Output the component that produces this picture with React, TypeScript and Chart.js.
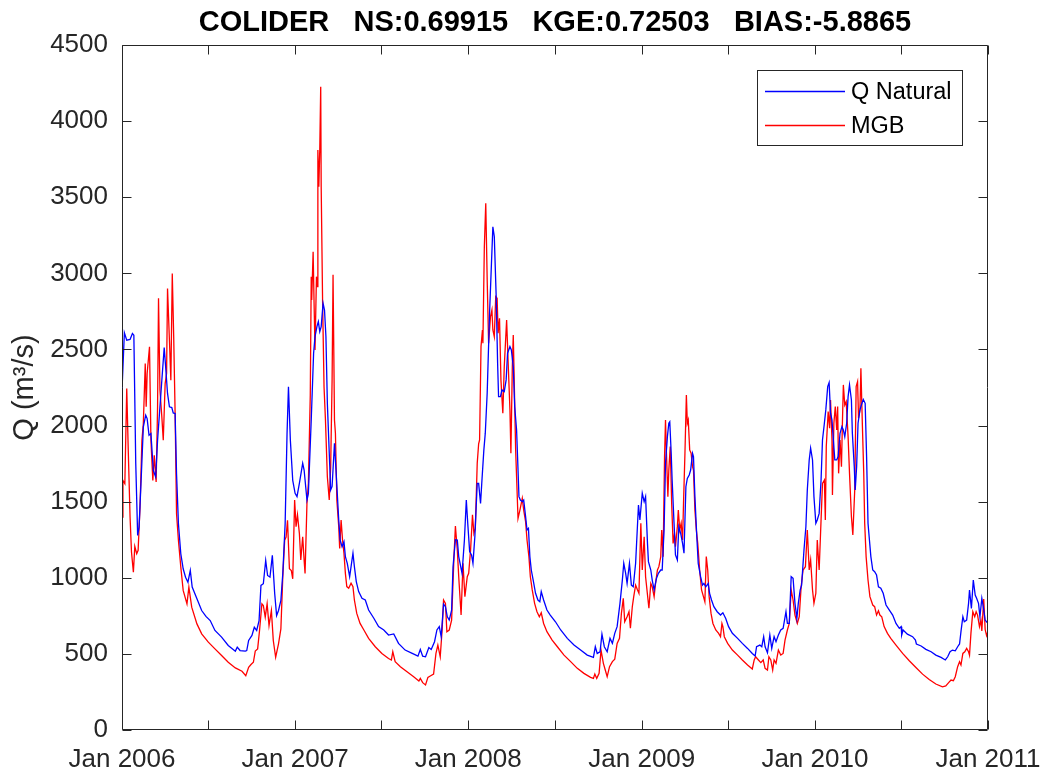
import { useEffect, useRef } from 'react';
import { Chart, registerables } from 'chart.js';

Chart.register(...registerables);

// ---------------- data (day offset from 1 Jan 2006, discharge m3/s) ----------------
const qNaturalPoints: [number, number][] = [
  [0, 2232], [5, 2610], [10, 2561], [17, 2566], [22, 2605], [25, 2594], [29, 1750], [33, 1278], [36, 1333],
  [40, 1618], [45, 1991], [50, 2068], [53, 2046], [57, 1936], [61, 1947], [66, 1706], [71, 1662], [75, 1903],
  [80, 2123], [84, 2298], [89, 2513], [92, 2386], [96, 2211], [100, 2123], [105, 2118], [108, 2083], [112, 2079],
  [115, 1684], [119, 1355], [124, 1158], [129, 1059], [134, 1004], [139, 971], [144, 1048], [148, 939], [158, 862],
  [168, 785], [177, 746], [186, 719], [196, 654], [210, 610], [224, 555], [239, 518], [243, 544], [249, 522],
  [260, 518], [263, 522], [267, 588], [274, 621], [279, 675], [284, 654], [289, 719], [293, 950], [298, 961],
  [303, 1114], [307, 1015], [312, 1004], [317, 1147], [322, 895], [326, 752], [330, 785], [335, 851], [339, 1026],
  [344, 1355], [348, 1947], [351, 2254], [355, 1903], [360, 1640],
  [365, 1555], [369, 1533], [374, 1620], [381, 1752], [384, 1708], [390, 1511], [393, 1555], [399, 2036],
  [404, 2475], [407, 2584], [411, 2650], [414, 2683], [417, 2617], [420, 2650], [424, 2803], [427, 2759],
  [430, 2584], [433, 2146], [436, 1900], [440, 1577], [443, 1600], [448, 1883], [452, 1664], [457, 1380],
  [460, 1248], [464, 1204], [468, 1237], [471, 1139], [475, 1095], [480, 1007], [483, 1073], [487, 1161],
  [490, 1073], [494, 975], [499, 909], [506, 865], [513, 854], [520, 788], [531, 734], [541, 679], [552, 657],
  [562, 624], [573, 631], [583, 569], [597, 525], [612, 503], [624, 485], [629, 529], [634, 485], [640, 481],
  [647, 542], [652, 529], [659, 580], [664, 657], [669, 679], [673, 613], [678, 827], [682, 810], [686, 744],
  [690, 722], [695, 788], [698, 1073], [703, 1250], [707, 1248], [710, 1139],
  [717, 1029], [722, 1248], [726, 1511], [729, 1358], [733, 1172], [737, 1150], [740, 1095], [744, 1270],
  [749, 1620], [752, 1620], [756, 1489], [759, 1642], [763, 1840], [766, 1950], [770, 2212], [775, 2737],
  [779, 3065], [782, 3306], [785, 3241], [789, 2847], [792, 2409], [794, 2190], [798, 2190], [801, 2234],
  [806, 2223], [810, 2300], [813, 2475], [818, 2519], [821, 2497], [825, 2387], [828, 2125], [832, 1971],
  [834, 1800], [837, 1533], [840, 1511], [844, 1500], [847, 1511], [851, 1402], [854, 1314], [857, 1325],
  [860, 1139], [863, 1051], [867, 985], [872, 898], [877, 854], [881, 843], [884, 909], [889, 854], [896, 788],
  [903, 755], [914, 711], [925, 657], [939, 602], [953, 558], [967, 525], [981, 492], [994, 477], [998, 547],
  [1002, 503], [1008, 514], [1012, 630], [1017, 547], [1023, 514], [1029, 602], [1034, 569], [1039, 635],
  [1044, 679], [1050, 832], [1055, 985], [1058, 1095], [1062, 1029], [1065, 963], [1070, 1095], [1074, 952],
  [1078, 941],
  [1083, 1095], [1089, 1478], [1092, 1380], [1097, 1555], [1101, 1500], [1104, 1533], [1108, 1226], [1110, 1106],
  [1115, 1051], [1118, 985], [1122, 920], [1127, 996], [1131, 1029], [1136, 1051], [1139, 1051], [1143, 1314],
  [1146, 1752], [1150, 1927], [1153, 2015], [1155, 2025], [1158, 1818], [1160, 1642], [1164, 1358], [1167, 1150],
  [1171, 1117], [1174, 1336], [1178, 1292], [1182, 1226], [1185, 1161], [1189, 1598], [1192, 1653], [1196, 1675],
  [1199, 1708], [1203, 1818], [1205, 1796], [1208, 1533], [1212, 1270], [1215, 1095], [1220, 1007], [1224, 952],
  [1227, 963], [1231, 941], [1236, 963], [1239, 898], [1243, 854], [1248, 810], [1255, 777], [1262, 755],
  [1267, 770], [1273, 733], [1279, 679], [1287, 635], [1298, 602], [1308, 569], [1319, 536], [1329, 503],
  [1335, 486], [1338, 547], [1345, 558], [1349, 547], [1353, 613], [1356, 547], [1361, 508], [1366, 624],
  [1370, 536], [1375, 613], [1379, 580], [1384, 624], [1389, 657], [1394, 668], [1400, 777], [1403, 700],
  [1407, 700], [1411, 1007], [1415, 996], [1419, 832], [1423, 733], [1426, 832], [1430, 920], [1433, 952],
  [1438, 1183],
  [1442, 1335], [1445, 1577], [1449, 1774], [1452, 1851], [1456, 1774], [1459, 1533], [1463, 1358], [1466, 1380],
  [1470, 1423], [1474, 1642], [1477, 1905], [1481, 2015], [1484, 2103], [1488, 2256], [1491, 2282], [1494, 2081],
  [1497, 2037], [1500, 1905], [1503, 1774], [1507, 1774], [1510, 1796], [1514, 1949], [1518, 1993], [1521, 1971],
  [1524, 1927], [1528, 2015], [1531, 2190], [1534, 2267], [1538, 2168], [1540, 1949], [1544, 1730], [1546, 1577],
  [1549, 1730], [1552, 2015], [1556, 2103], [1559, 2135], [1563, 2172], [1567, 2146], [1570, 1796], [1573, 1358],
  [1576, 1248], [1579, 1139], [1583, 1051], [1587, 1040], [1591, 1018], [1595, 941], [1600, 931], [1605, 898],
  [1611, 821], [1618, 788], [1625, 755], [1632, 700], [1639, 668], [1643, 679], [1644, 624], [1647, 657],
  [1656, 630], [1667, 613], [1673, 591], [1675, 565], [1685, 552], [1695, 530], [1706, 514], [1716, 492],
  [1727, 477], [1736, 460], [1741, 481], [1746, 514], [1751, 525], [1757, 520], [1762, 547], [1766, 565],
  [1769, 646], [1773, 744], [1776, 711], [1781, 722], [1785, 832], [1787, 920], [1791, 799], [1795, 985],
  [1799, 886], [1802, 865], [1806, 832], [1809, 744], [1813, 865], [1816, 810], [1820, 722], [1823, 711],
  [1826, 700],
];

const mgbPoints: [number, number][] = [
  [0, 1399], [2, 1640], [6, 1618], [10, 2243], [13, 1860], [17, 1399], [20, 1169], [24, 1037], [27, 1206],
  [31, 1158], [34, 1180], [38, 1465], [42, 1903], [45, 2013], [49, 2408], [51, 2123], [53, 2342], [58, 2518],
  [61, 1903], [65, 1640], [68, 1805], [72, 1629], [75, 2123], [77, 2836], [80, 2232], [84, 2057], [87, 1903],
  [91, 2276], [94, 2342], [96, 2901], [100, 2561], [103, 2298], [106, 2999], [109, 2583], [112, 2079],
  [115, 1421], [119, 1246], [124, 1070], [129, 917], [137, 829], [141, 939], [147, 807], [158, 697], [168, 632],
  [182, 577], [196, 533], [210, 489], [224, 445], [239, 408], [253, 386], [261, 357], [267, 412], [272, 430],
  [277, 445], [281, 518], [286, 533], [290, 654], [295, 829], [298, 818], [302, 741], [306, 829], [310, 686],
  [315, 785], [319, 588], [324, 478], [330, 566], [335, 664], [339, 1004], [343, 1246], [346, 1268],
  [349, 1377], [353, 1059], [357, 1048], [360, 993],
  [364, 1511], [367, 1336], [370, 1413], [374, 1292], [377, 1117], [381, 1270], [384, 1117], [386, 1029],
  [390, 1489], [393, 1620], [397, 2200], [399, 2978], [400, 2825], [403, 3142], [405, 2803], [407, 2496],
  [410, 2978], [412, 2913], [413, 3810], [415, 3569], [417, 3810], [419, 4226], [420, 3569], [423, 2803],
  [426, 2255], [429, 2036], [433, 1664], [437, 1511], [440, 1730], [443, 2300], [445, 2990], [448, 2036],
  [450, 1949], [453, 1511], [457, 1336], [459, 1193], [462, 1380], [465, 1248], [468, 1161], [471, 1029],
  [474, 942], [478, 931], [483, 964], [487, 942], [490, 854], [495, 766], [502, 700], [510, 657], [520, 602],
  [534, 547], [548, 503], [562, 470], [568, 460], [571, 514], [576, 449], [587, 416], [601, 383], [615, 350],
  [626, 322], [629, 339], [634, 311], [640, 296], [645, 346], [650, 355], [657, 368], [662, 503], [666, 558],
  [671, 481], [675, 657], [678, 854], [682, 832], [685, 646], [690, 657], [695, 722], [700, 1139], [703, 1340],
  [707, 1183], [710, 1007],
  [715, 755], [719, 1095], [723, 876], [728, 1007], [731, 1029], [735, 1183], [739, 1413], [742, 1292],
  [745, 1325], [749, 1752], [752, 1880], [754, 1905], [757, 2519], [760, 2628], [761, 2541], [764, 3175],
  [767, 3460], [770, 2957], [773, 2541], [777, 2716], [780, 2759], [782, 2628], [785, 2584], [788, 2847],
  [791, 2836], [793, 2606], [796, 2705], [799, 2300], [803, 2081], [806, 2387], [811, 2694], [814, 2431],
  [818, 2103], [820, 1818], [823, 2387], [825, 2595], [827, 2300], [830, 1840], [832, 1664], [835, 1390],
  [839, 1445], [844, 1522], [847, 1445], [851, 1369], [854, 1248], [858, 1139], [861, 1007], [865, 920],
  [870, 832], [875, 777], [880, 744], [884, 770], [889, 700], [896, 646], [907, 591], [918, 547], [932, 492],
  [946, 449], [960, 405], [974, 372], [988, 346], [994, 339], [997, 368], [1001, 339], [1006, 372], [1010, 525],
  [1015, 438], [1019, 394], [1023, 350], [1028, 416], [1034, 449], [1039, 465], [1044, 569], [1049, 602],
  [1053, 766], [1057, 865], [1060, 711], [1065, 744], [1069, 777], [1072, 668], [1076, 810], [1079, 876],
  [1083, 952], [1087, 920], [1090, 898], [1094, 1358], [1097, 1051], [1101, 1270], [1104, 1007], [1111, 800],
  [1115, 963], [1118, 941], [1122, 876], [1125, 963], [1129, 1051], [1132, 1073], [1136, 1139], [1138, 1314],
  [1141, 1139], [1144, 1796], [1146, 2037], [1148, 1818], [1151, 1533], [1153, 1708], [1156, 1862], [1159, 1489],
  [1162, 1226], [1165, 1292], [1167, 1204], [1171, 1336], [1173, 1445], [1176, 1314], [1179, 1358], [1182, 1248],
  [1184, 1489], [1187, 1818], [1190, 2201], [1192, 2015], [1194, 2037], [1197, 1840], [1200, 1818], [1203, 1730],
  [1205, 1708], [1208, 1445], [1211, 1314], [1214, 1226], [1218, 1051], [1222, 920], [1226, 876], [1229, 843],
  [1232, 1139], [1235, 1051], [1238, 876], [1242, 766], [1246, 700], [1252, 657], [1258, 635], [1262, 613],
  [1265, 700], [1267, 679], [1270, 613], [1277, 569], [1287, 525], [1298, 492], [1308, 460], [1319, 427],
  [1329, 401], [1333, 460], [1336, 481], [1342, 460], [1347, 443], [1352, 460], [1356, 405], [1361, 394],
  [1364, 481], [1368, 460], [1372, 394], [1375, 460], [1379, 438], [1384, 525], [1389, 492], [1394, 503],
  [1398, 591], [1403, 657], [1407, 700], [1411, 920], [1415, 854], [1419, 755], [1424, 700], [1428, 744],
  [1432, 941], [1436, 1051], [1441, 1073],
  [1445, 1314], [1449, 1051], [1452, 1117], [1456, 920], [1459, 832], [1463, 898], [1466, 1248], [1470, 1051],
  [1474, 1380], [1477, 1620], [1481, 1642], [1483, 1380], [1485, 1862], [1489, 2092], [1492, 1983], [1494, 2168],
  [1497, 1905], [1498, 1544], [1501, 2015], [1504, 2125], [1507, 1971], [1509, 2125], [1511, 1686], [1514, 1905],
  [1517, 1730], [1519, 2015], [1521, 2267], [1524, 2135], [1527, 2157], [1531, 1927], [1534, 1686], [1538, 1402],
  [1541, 1281], [1545, 1577], [1548, 2256], [1551, 2289], [1553, 2048], [1556, 2103], [1558, 2376], [1561, 2015],
  [1564, 1686], [1566, 1358], [1569, 1139], [1573, 985], [1577, 876], [1583, 821], [1587, 810], [1591, 755],
  [1595, 783], [1598, 755], [1602, 744], [1607, 679], [1614, 635], [1621, 602], [1632, 558], [1646, 503],
  [1660, 455], [1674, 411], [1688, 367], [1702, 332], [1716, 302], [1730, 284], [1737, 289], [1743, 311],
  [1748, 328], [1753, 324], [1757, 350], [1762, 416], [1766, 449], [1769, 427], [1773, 503], [1777, 514],
  [1781, 536], [1785, 514], [1787, 492], [1790, 635], [1794, 777], [1798, 744], [1801, 777], [1804, 755],
  [1808, 679], [1811, 722], [1813, 650], [1817, 860], [1820, 660], [1823, 620], [1826, 650],
];

const seriesLabels = ['Q Natural', 'MGB'];
const xTickDays = [0, 181, 365, 546, 730, 912, 1096, 1277, 1461, 1642, 1826];
const xTickLabels = ['Jan 2006', '', 'Jan 2007', '', 'Jan 2008', '', 'Jan 2009', '', 'Jan 2010', '', 'Jan 2011'];
const yMin = 0;
const yMax = 4500;
const yStep = 500;
const titleText = 'COLIDER   NS:0.69915   KGE:0.72503   BIAS:-5.8865';
const yTitle = 'Q (m³/s)';

// ---------------- layout / style ----------------
const W = 1045;
const H = 775;
const AREA = { left: 122, top: 45, right: 988, bottom: 730 };
const FONT = '"Liberation Sans", Arial, Helvetica, sans-serif';
const AXIS_COLOR = '#262626';
const COLORS = ['#0000ff', '#ff0000'];

const framePlugin = {
  id: 'matlabFrame',
  afterDraw(chart: any) {
    const { ctx, chartArea: a, scales } = chart;
    const x = scales.x;
    const y = scales.y;
    ctx.save();
    ctx.strokeStyle = AXIS_COLOR;
    ctx.lineWidth = 1;
    const L = Math.round(a.left) + 0.5;
    const R = Math.round(a.right) - 0.5;
    const T = Math.round(a.top) + 0.5;
    const B = Math.round(a.bottom) - 0.5;
    ctx.beginPath();
    ctx.rect(L, T, R - L, B - T);
    ctx.stroke();
    const tl = 9;
    ctx.beginPath();
    xTickDays.forEach((d) => {
      const px = Math.round(x.getPixelForValue(d)) + 0.5;
      ctx.moveTo(px, B);
      ctx.lineTo(px, B - tl);
      ctx.moveTo(px, T);
      ctx.lineTo(px, T + tl);
    });
    for (let v = yMin; v <= yMax; v += yStep) {
      const py = Math.round(y.getPixelForValue(v)) + 0.5;
      ctx.moveTo(L, py);
      ctx.lineTo(L + tl, py);
      ctx.moveTo(R, py);
      ctx.lineTo(R - tl, py);
    }
    ctx.stroke();

    // title
    ctx.fillStyle = '#000000';
    ctx.font = `bold 29px ${FONT}`;
    ctx.textAlign = 'center';
    ctx.textBaseline = 'alphabetic';
    ctx.fillText(titleText, (a.left + a.right) / 2, 31);

    // legend box (inside top-right)
    const bx1 = a.right - 231;
    const bx2 = a.right - 26;
    const by1 = a.top + 25;
    const by2 = a.top + 100;
    ctx.fillStyle = '#ffffff';
    ctx.fillRect(bx1, by1, bx2 - bx1, by2 - by1);
    ctx.strokeStyle = AXIS_COLOR;
    ctx.lineWidth = 1;
    ctx.strokeRect(Math.round(bx1) + 0.5, Math.round(by1) + 0.5, bx2 - bx1, by2 - by1);
    const rows = [by1 + 21, by1 + 55];
    ctx.font = `23.5px ${FONT}`;
    ctx.textAlign = 'left';
    ctx.textBaseline = 'middle';
    chart.data.datasets.forEach((ds: any, i: number) => {
      const ry = rows[i] + 0.5;
      ctx.strokeStyle = ds.borderColor;
      ctx.lineWidth = 1.3;
      ctx.beginPath();
      ctx.moveTo(bx1 + 8, ry);
      ctx.lineTo(bx1 + 88, ry);
      ctx.stroke();
      ctx.fillStyle = '#000000';
      ctx.fillText(ds.label, bx1 + 94, ry + 1);
    });
    ctx.restore();
  },
};

export default function App() {
  const ref = useRef<HTMLCanvasElement | null>(null);

  useEffect(() => {
    if (!ref.current) return;
    const chart = new Chart(ref.current, {
      type: 'line',
      data: {
        datasets: [qNaturalPoints, mgbPoints].map((pts, i) => ({
          label: seriesLabels[i],
          data: pts.map(([d, q]) => ({ x: d, y: q })),
          borderColor: COLORS[i],
          backgroundColor: COLORS[i],
          borderWidth: 1.3,
          pointRadius: 0,
          tension: 0,
          fill: false,
        })),
      },
      options: {
        animation: false,
        responsive: false,
        maintainAspectRatio: false,
        devicePixelRatio: 1,
        events: [],
        layout: { padding: { left: 0, top: AREA.top, right: W - AREA.right, bottom: 0 } },
        plugins: {
          legend: { display: false },
          title: { display: false },
          tooltip: { enabled: false },
        },
        scales: {
          x: {
            type: 'linear',
            min: xTickDays[0],
            max: xTickDays[xTickDays.length - 1],
            afterBuildTicks: (s: any) => {
              s.ticks = xTickDays.map((v) => ({ value: v }));
            },
            afterFit: (s: any) => {
              s.height = H - AREA.bottom;
              s.paddingLeft = 0;
              s.paddingRight = 0;
            },
            grid: { display: false, drawTicks: false },
            border: { display: false },
            ticks: {
              autoSkip: false,
              maxRotation: 0,
              minRotation: 0,
              padding: 14,
              color: AXIS_COLOR,
              font: { family: FONT, size: 26 },
              callback: (_v: any, i: number) => xTickLabels[i],
            },
          },
          y: {
            type: 'linear',
            min: yMin,
            max: yMax,
            afterFit: (s: any) => {
              s.width = AREA.left;
              s.paddingTop = 0;
              s.paddingBottom = 0;
            },
            grid: { display: false, drawTicks: false },
            border: { display: false },
            ticks: {
              stepSize: yStep,
              padding: 14,
              color: AXIS_COLOR,
              font: { family: FONT, size: 26 },
              callback: (v: any) => String(v),
            },
            title: {
              display: true,
              text: yTitle,
              color: AXIS_COLOR,
              font: { family: FONT, size: 29, lineHeight: 1.2 },
              padding: { top: 8, bottom: 0 },
            },
          },
        },
      },
      plugins: [framePlugin],
    } as any);
    return () => chart.destroy();
  }, []);

  return (
    <div style={{ position: 'absolute', left: 0, top: 0, width: W, height: H, background: '#ffffff' }}>
      <canvas ref={ref} width={W} height={H} style={{ display: 'block' }} />
    </div>
  );
}
